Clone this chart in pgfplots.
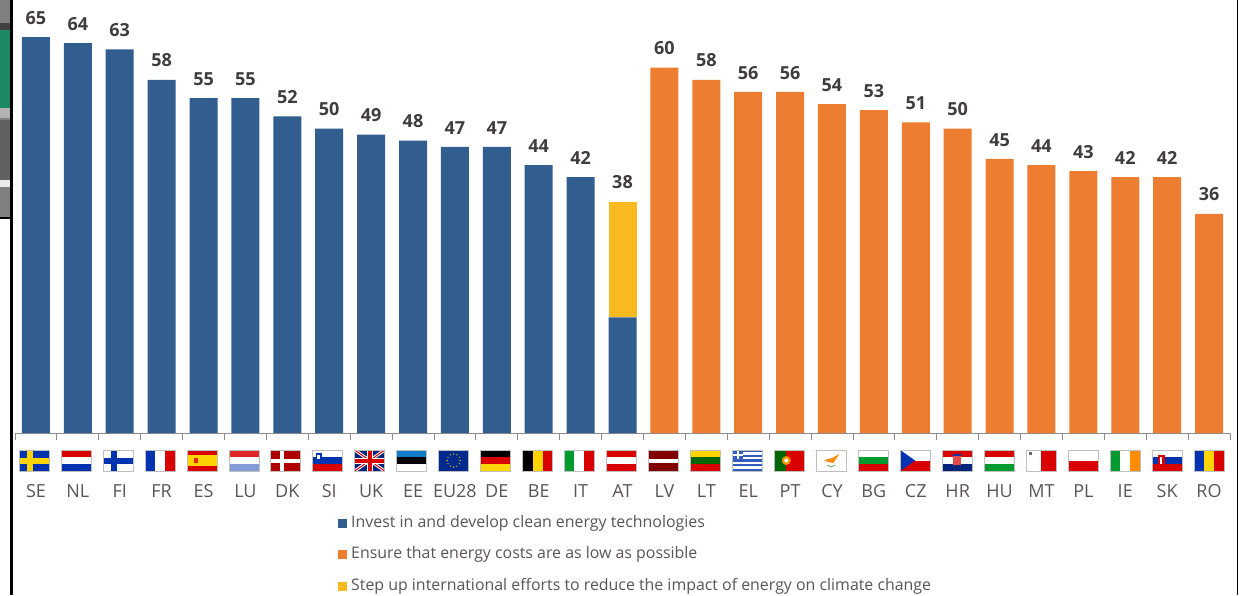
\documentclass[border=0pt]{standalone}
\usepackage{fontspec}
\setmainfont{Open Sans}
\usepackage{pgfplots}
\usepackage{pgfplotstable}
\pgfplotsset{compat=1.18}
\definecolor{cblue}{HTML}{325D8F}
\definecolor{corange}{HTML}{ED7D31}
\definecolor{cyellow}{HTML}{F9B91F}
\definecolor{ctext}{HTML}{5A5556}
\definecolor{clabel}{HTML}{403B3D}
\definecolor{fblue}{HTML}{0033B0}
\definecolor{fred}{HTML}{D90000}
\definecolor{fyel}{HTML}{FFD400}
\definecolor{fgreen}{HTML}{009A2E}
\definecolor{nteal}{HTML}{1B8A64}

% x blue orange yellow total
\pgfplotstableread{
i  b  o  y  total
0  65 0  0  65
1  64 0  0  64
2  63 0  0  63
3  58 0  0  58
4  55 0  0  55
5  55 0  0  55
6  52 0  0  52
7  50 0  0  50
8  49 0  0  49
9  48 0  0  48
10 47 0  0  47
11 47 0  0  47
12 44 0  0  44
13 42 0  0  42
14 19 0  19 38
15 0  60 0  60
16 0  58 0  58
17 0  56 0  56
18 0  56 0  56
19 0  54 0  54
20 0  53 0  53
21 0  51 0  51
22 0  50 0  50
23 0  45 0  45
24 0  44 0  44
25 0  43 0  43
26 0  42 0  42
27 0  42 0  42
28 0  36 0  36
}\shares

% flag #1 = position, #2 = drawing in a 30x21 box
\newcommand{\fl}[2]{\begin{scope}[shift={({19+41.96*#1},124)}]
  \fill[white] (0,0) rectangle (30,21);
  #2
  \draw[black!25,line width=.6pt] (0,0) rectangle (30,21);
\end{scope}}
\newcommand{\hb}[3]{\fill[#1] (0,14) rectangle (30,21);\fill[#2] (0,7) rectangle (30,14);\fill[#3] (0,0) rectangle (30,7);}
\newcommand{\vb}[3]{\fill[#1] (0,0) rectangle (10,21);\fill[#2] (10,0) rectangle (20,21);\fill[#3] (20,0) rectangle (30,21);}
\newcommand{\cross}[3]{\fill[#1] (0,0) rectangle (30,21);\fill[#2] (8,0) rectangle (14,21);\fill[#2] (0,7.5) rectangle (30,13.5);}

\begin{document}
\begin{tikzpicture}
\begin{scope}[x=1pt,y=1pt]
  \useasboundingbox (0,0) rectangle (1245,595);
  \fill[white] (0,0) rectangle (1245,595);
  % scraps of another picture on the left edge
  \fill[black!50] (0,377) rectangle (10,595);
  \fill[black!75] (0,565) rectangle (10,572);
  \fill[nteal] (0,487) rectangle (10,565);
  \fill[black!30] (0,477) rectangle (10,487);
  \fill[black!62] (0,415) rectangle (10,475);
  \fill[black!8] (0,408) rectangle (10,415);
  \fill[black] (0,376) rectangle (11,378);
  \fill[black] (10,0) rectangle (12.5,595);
  \fill[black] (1237,0) rectangle (1238,595);
\end{scope}

\begin{axis}[
  at={(15pt,162pt)}, anchor=south west,
  scale only axis, width=1215pt, height=426.3pt,
  ybar stacked, bar width=28pt,
  xmin=-0.5, xmax=28.5, ymin=0, ymax=70,
  clip=false,
  axis y line=none, axis x line=bottom,
  axis line style={-,draw=black!45,line width=.8pt},
  xtick={0,...,28},
  xticklabels={SE,NL,FI,FR,ES,LU,DK,SI,UK,EE,EU28,DE,BE,IT,AT,LV,LT,EL,PT,CY,BG,CZ,HR,HU,MT,PL,IE,SK,RO},
  major tick length=0pt,
  xticklabel style={font=\fontsize{18}{18}\selectfont,text=ctext,anchor=center,yshift=-58pt},
  extra x ticks={-0.5,0.5,1.5,2.5,3.5,4.5,5.5,6.5,7.5,8.5,9.5,10.5,11.5,12.5,13.5,14.5,15.5,16.5,17.5,18.5,19.5,20.5,21.5,22.5,23.5,24.5,25.5,26.5,27.5,28.5},
  extra x tick labels={},
  extra x tick style={major tick length=7pt,tick align=outside,
    tick style={draw=black!45,line width=.8pt}},
  legend style={at={(323pt,-82pt)},anchor=north west,draw=none,fill=none,
    font=\fontsize{15.9}{15.9}\selectfont,text=ctext,
    row sep=15.5pt,inner sep=0pt,
    nodes={inner sep=0pt,anchor=west,text height=12pt,text depth=4pt}},
  legend cell align=left,
  legend image code/.code={\fill[#1] (0pt,-4.5pt) rectangle (9pt,4.5pt); \path (13pt,0pt);},
  every axis legend/.append style={/tikz/every even column/.style={column sep=4pt}},
]
\addplot[fill=cblue,draw=none] table[x=i,y=b] {\shares};
\addlegendentry{Invest in and develop clean energy technologies}
\addplot[fill=corange,draw=none] table[x=i,y=o] {\shares};
\addlegendentry{Ensure that energy costs are as low as possible}
\addplot[fill=cyellow,draw=none] table[x=i,y=y] {\shares};
\addlegendentry{Step up international efforts to reduce the impact of energy on climate change}
\end{axis}

% value labels, on a second axis with the same scales
\begin{axis}[
  at={(15pt,162pt)}, anchor=south west,
  scale only axis, width=1215pt, height=426.3pt,
  xmin=-0.5, xmax=28.5, ymin=0, ymax=70,
  clip=false, hide axis,
  /pgf/number format/assume math mode=true,
  nodes near coords style={font=\fontsize{18}{18}\selectfont\bfseries,text=clabel,anchor=south,inner sep=0pt,yshift=12.5pt},
]
\addplot[only marks,mark=*,mark size=0pt,
  point meta=y,
  nodes near coords]
  table[x=i,y=total] {\shares};
\end{axis}

\begin{scope}[x=1pt,y=1pt]
  \fl{0}{\cross{fblue}{fyel}{}}
  \fl{1}{\hb{fred}{white}{fblue}}
  \fl{2}{\cross{white}{fblue}{}}
  \fl{3}{\vb{fblue}{white}{fred}}
  \fl{4}{\fill[fred] (0,0) rectangle (30,21);\fill[fyel] (0,5) rectangle (30,16);\fill[fred!70!orange] (7,8) rectangle (11,13);}
  \fl{5}{\hb{fred!85!white}{white}{cyan!40!blue!50}}
  \fl{6}{\fill[fred!80!black] (0,0) rectangle (30,21);\fill[white] (9,0) rectangle (13,21);\fill[white] (0,8.5) rectangle (30,12.5);}
  \fl{7}{\hb{white}{fblue}{fred}\fill[fblue] (3,10) rectangle (9,18);\fill[white] (4.5,12) rectangle (7.5,16);}
  \fl{8}{\fill[fblue!70!black] (0,0) rectangle (30,21);
    \draw[white,line width=3pt] (0,0) -- (30,21) (0,21) -- (30,0);
    \draw[fred,line width=1pt] (0,0) -- (30,21) (0,21) -- (30,0);
    \fill[white] (12,0) rectangle (18,21);\fill[white] (0,7.5) rectangle (30,13.5);
    \fill[fred] (13,0) rectangle (17,21);\fill[fred] (0,8.5) rectangle (30,12.5);}
  \fl{9}{\hb{cyan!60!blue}{black}{white}}
  \fl{10}{\fill[fblue!80!black] (0,0) rectangle (30,21);
    \foreach \a in {0,30,...,330}{\fill[fyel] ({15+6.5*cos(\a)},{10.5+6.5*sin(\a)}) circle (.7);}}
  \fl{11}{\hb{black}{fred}{fyel}}
  \fl{12}{\vb{black}{fyel}{fred}}
  \fl{13}{\vb{fgreen}{white}{fred}}
  \fl{14}{\hb{fred}{white}{fred}}
  \fl{15}{\fill[red!50!black] (0,0) rectangle (30,21);\fill[white] (0,8.5) rectangle (30,12.5);}
  \fl{16}{\hb{fyel}{green!40!black}{fred}}
  \fl{17}{\foreach \k in {0,2,4,6,8}{\fill[fblue!80!white] (0,{\k*21/9}) rectangle (30,{(\k+1)*21/9});}
    \fill[fblue!80!white] (0,11.6) rectangle (11,21);\fill[white] (4.4,11.6) rectangle (6.6,21);\fill[white] (0,15.2) rectangle (11,17.4);}
  \fl{18}{\fill[fred] (0,0) rectangle (30,21);\fill[green!40!black] (0,0) rectangle (12,21);\fill[fyel!70!fred] (12,10.5) circle (4.5);\fill[white] (12,10.5) circle (2);}
  \fl{19}{\fill[orange!90!yellow] (8,11) -- (16,13) -- (23,17) -- (17,8) -- (12,9) -- cycle;\draw[green!40!black!60,line width=.8pt] (11,6) -- (15,4) -- (19,6);}
  \fl{20}{\hb{white}{fgreen}{fred}}
  \fl{21}{\fill[white] (0,10.5) rectangle (30,21);\fill[fred] (0,0) rectangle (30,10.5);\fill[fblue] (0,0) -- (15,10.5) -- (0,21) -- cycle;}
  \fl{22}{\hb{fred}{white}{fblue!70!black}\fill[fred!70] (11,6) rectangle (19,15);\fill[fblue] (11,15) rectangle (19,17);}
  \fl{23}{\hb{fred}{white}{fgreen}}
  \fl{24}{\fill[fred] (15,0) rectangle (30,21);\fill[black!60] (3,16) rectangle (6,19);}
  \fl{25}{\fill[fred] (0,0) rectangle (30,10.5);}
  \fl{26}{\vb{fgreen}{white}{orange!90!yellow}}
  \fl{27}{\hb{white}{fblue}{fred}\fill[fred] (6,5) rectangle (13,16);\fill[white] (8.5,7) rectangle (10.5,14);}
  \fl{28}{\vb{fblue}{fyel}{fred}}
\end{scope}
\end{tikzpicture}
\end{document}
